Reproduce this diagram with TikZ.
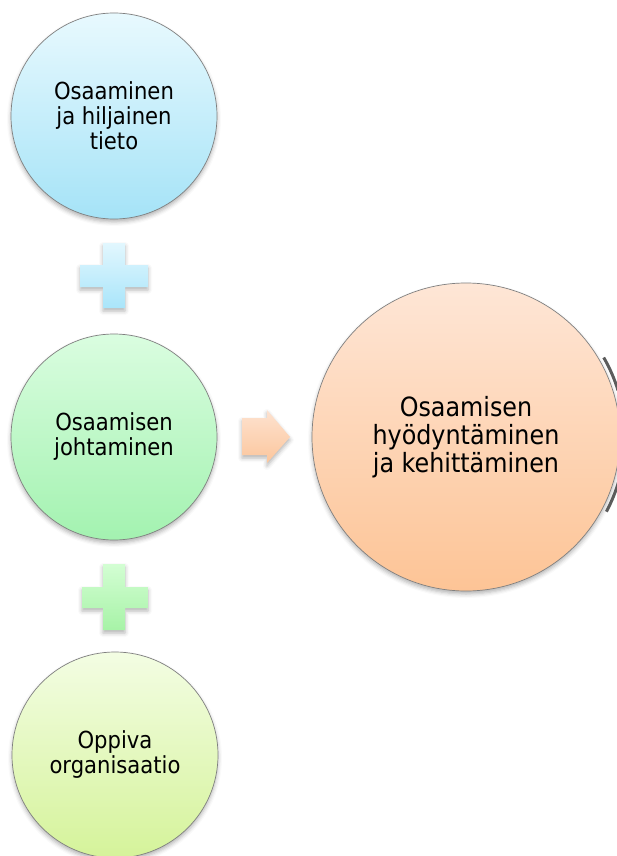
\documentclass[tikz,border=0pt]{standalone}
\usepackage{fontspec}
\setmainfont{DejaVu Sans Condensed}
\usetikzlibrary{shadows.blur}
\begin{document}
\begin{tikzpicture}[x=1pt,y=-1pt,
  softshadow/.style={blur shadow={shadow xshift=0pt,shadow yshift=-3pt,shadow blur radius=4pt,shadow opacity=30}},
  bubble/.style={circle,draw=black!50,line width=0.7pt,minimum size=#1,inner sep=0pt,align=center,softshadow},
  smalltext/.style={font=\fontsize{23.5}{25}\selectfont},
  bigtext/.style={font=\fontsize{26.5}{28}\selectfont},
  plusshape/.style={draw=none,softshadow}
]
\useasboundingbox (0,0) rectangle (617,856);
\begin{scope}
\clip (0,0) rectangle (617,856);

% left column of circles
\node[bubble=206pt,smalltext,
      top color={rgb,255:red,232;green,249;blue,254},bottom color={rgb,255:red,165;green,227;blue,247}]
  (know) at (114,116) {Osaaminen\\ja hiljainen\\tieto};
\node[bubble=206pt,smalltext,
      top color={rgb,255:red,218;green,253;blue,224},bottom color={rgb,255:red,163;green,242;blue,176}]
  (lead) at (114,437) {Osaamisen\\johtaminen};
\node[bubble=206pt,smalltext,
      top color={rgb,255:red,243;green,253;blue,227},bottom color={rgb,255:red,213;green,243;blue,154}]
  (learn) at (115,755) {Oppiva\\organisaatio};

% outcome circle on the right
\node[bubble=308pt,bigtext,
      top color={rgb,255:red,254;green,230;blue,214},bottom color={rgb,255:red,253;green,196;blue,150}]
  (use) at (466,437) {Osaamisen\\hyödyntäminen\\ja kehittäminen};

% dark edge marks beside the outcome circle
\draw[black!75,line width=3pt,opacity=0.85] (use.center) ++(16:159) arc (16:28:159);
\draw[black!75,line width=3pt,opacity=0.85] (use.center) ++(-17:159) arc (-17:-30:159);

% plus signs between the circles
\path[plusshape,top color={rgb,255:red,226;green,247;blue,254},bottom color={rgb,255:red,169;green,229;blue,250}]
  (103,243) -- (125,243) -- (125,265) -- (148,265) -- (148,287) -- (125,287) -- (125,308)
  -- (103,308) -- (103,287) -- (80,287) -- (80,265) -- (103,265) -- cycle;
\path[plusshape,top color={rgb,255:red,211;green,254;blue,211},bottom color={rgb,255:red,167;green,243;blue,167}]
  (103,564) -- (125,564) -- (125,587) -- (148,587) -- (148,608) -- (125,608) -- (125,630)
  -- (103,630) -- (103,608) -- (82,608) -- (82,587) -- (103,587) -- cycle;

% arrow towards the outcome
\path[plusshape,top color={rgb,255:red,253;green,226;blue,208},bottom color={rgb,255:red,252;green,198;blue,156}]
  (242,418) -- (267,418) -- (267,410) -- (290,437) -- (267,463) -- (267,455) -- (242,455) -- cycle;
\end{scope}
\end{tikzpicture}
\end{document}
